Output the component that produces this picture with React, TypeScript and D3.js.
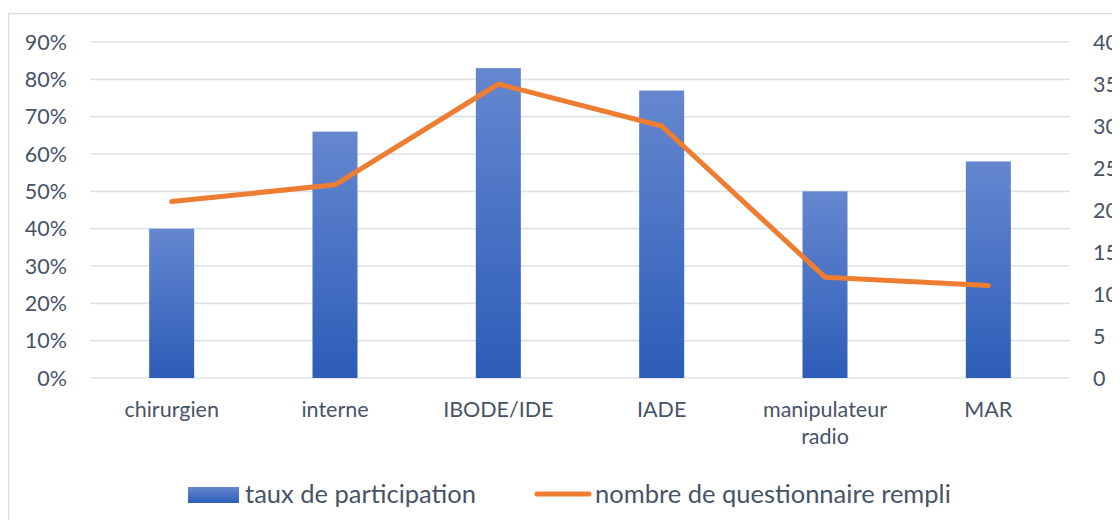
import React, { useEffect, useRef } from 'react';
import * as d3 from 'd3';

const categories = ['chirurgien', 'interne', 'IBODE/IDE', 'IADE', 'manipulateur radio', 'MAR'];
const participation = [0.40, 0.66, 0.83, 0.77, 0.50, 0.58];
const questionnaires = [21, 23, 35, 30, 12, 11];
const leftTicks = [0, 0.1, 0.2, 0.3, 0.4, 0.5, 0.6, 0.7, 0.8, 0.9];
const rightTicks = [0, 5, 10, 15, 20, 25, 30, 35, 40];
const seriesNames = ['taux de participation', 'nombre de questionnaire rempli'];

const width = 1120;
const height = 528;
const margin = { top: 42, bottom: 150, left: 90, right: 50 };
const textColor = '#465467';
const font = 'Lato, "Open Sans", sans-serif';

const App = () => {
    const wrapper = useRef<HTMLDivElement>(null);

    useEffect(() => {
        d3.select(wrapper.current).selectAll('svg').remove();

        const svg = d3.select(wrapper.current)
            .append('svg')
            .attr('width', width)
            .attr('height', height)
            .style('display', 'block')
            .style('font-family', font);

        const defs = svg.append('defs');
        const grad = defs.append('linearGradient')
            .attr('id', 'barGrad')
            .attr('x1', 0).attr('y1', 0).attr('x2', 0).attr('y2', 1);
        grad.append('stop').attr('offset', '0%').attr('stop-color', '#6587cf');
        grad.append('stop').attr('offset', '100%').attr('stop-color', '#2c5db8');

        // chart frame
        svg.append('rect')
            .attr('x', 8.5).attr('y', 13.5)
            .attr('width', 1200).attr('height', 600)
            .attr('fill', 'white')
            .attr('stroke', '#dadde3')
            .attr('stroke-width', 1.5);

        const x = d3.scaleBand()
            .domain(categories)
            .range([margin.left, width - margin.right]);

        const y = d3.scaleLinear()
            .domain([0, 0.9])
            .range([378, margin.top]);

        const y2 = d3.scaleLinear()
            .domain([0, 40])
            .range([378, margin.top]);

        // gridlines
        svg.append('g')
            .selectAll('line')
            .data(leftTicks)
            .join('line')
                .attr('x1', margin.left)
                .attr('x2', width - margin.right)
                .attr('y1', d => y(d))
                .attr('y2', d => y(d))
                .attr('stroke', '#dfe2e8')
                .attr('stroke-width', 1.6);

        // left axis
        svg.append('g')
            .selectAll('text')
            .data(leftTicks)
            .join('text')
                .attr('x', 67)
                .attr('y', d => y(d))
                .attr('dy', '0.36em')
                .attr('text-anchor', 'end')
                .attr('font-size', 21.5)
                .attr('fill', textColor)
                .text(d => d3.format('.0%')(d));

        // right axis
        svg.append('g')
            .selectAll('text')
            .data(rightTicks)
            .join('text')
                .attr('x', 1093)
                .attr('y', d => y2(d))
                .attr('dy', '0.36em')
                .attr('text-anchor', 'start')
                .attr('font-size', 21.5)
                .attr('fill', textColor)
                .text(d => d);

        // bars
        const barW = 45;
        svg.append('g')
            .selectAll('rect')
            .data(participation)
            .join('rect')
                .attr('x', (d, i) => x(categories[i])! + x.bandwidth() / 2 - barW / 2)
                .attr('y', d => y(d))
                .attr('width', barW)
                .attr('height', d => y(0) - y(d))
                .attr('fill', 'url(#barGrad)');

        // line
        const line = d3.line<number>()
            .x((d, i) => x(categories[i])! + x.bandwidth() / 2)
            .y(d => y2(d));

        svg.append('path')
            .datum(questionnaires)
            .attr('d', line)
            .attr('fill', 'none')
            .attr('stroke', '#ed7d31')
            .attr('stroke-width', 5)
            .attr('stroke-linejoin', 'round')
            .attr('stroke-linecap', 'round');

        // category labels
        const cat = svg.append('g')
            .selectAll('text')
            .data(categories)
            .join('text')
                .attr('x', d => x(d)! + x.bandwidth() / 2)
                .attr('y', 417)
                .attr('text-anchor', 'middle')
                .attr('font-size', 21.5)
                .attr('fill', textColor);

        cat.selectAll('tspan')
            .data(d => d === 'manipulateur radio' ? ['manipulateur', 'radio'] : [d])
            .join('tspan')
                .attr('x', function () { return (this.parentNode as SVGTextElement).getAttribute('x'); })
                .attr('dy', (d, i) => i === 0 ? 0 : 27)
                .text(d => d);

        // legend
        const legend = svg.append('g');
        legend.append('rect')
            .attr('x', 188).attr('y', 487)
            .attr('width', 51).attr('height', 16)
            .attr('fill', 'url(#barGrad)');
        legend.append('text')
            .attr('x', 245).attr('y', 494)
            .attr('dy', '0.36em')
            .attr('font-size', 25.5)
            .attr('fill', textColor)
            .text(seriesNames[0]);
        legend.append('line')
            .attr('x1', 537).attr('x2', 589)
            .attr('y1', 494).attr('y2', 494)
            .attr('stroke', '#ed7d31')
            .attr('stroke-width', 5)
            .attr('stroke-linecap', 'round');
        legend.append('text')
            .attr('x', 595).attr('y', 494)
            .attr('dy', '0.36em')
            .attr('font-size', 25.5)
            .attr('fill', textColor)
            .text(seriesNames[1]);
    }, []);

    return <div ref={wrapper} style={{ margin: -8 }} />;
};

export { App as default };
